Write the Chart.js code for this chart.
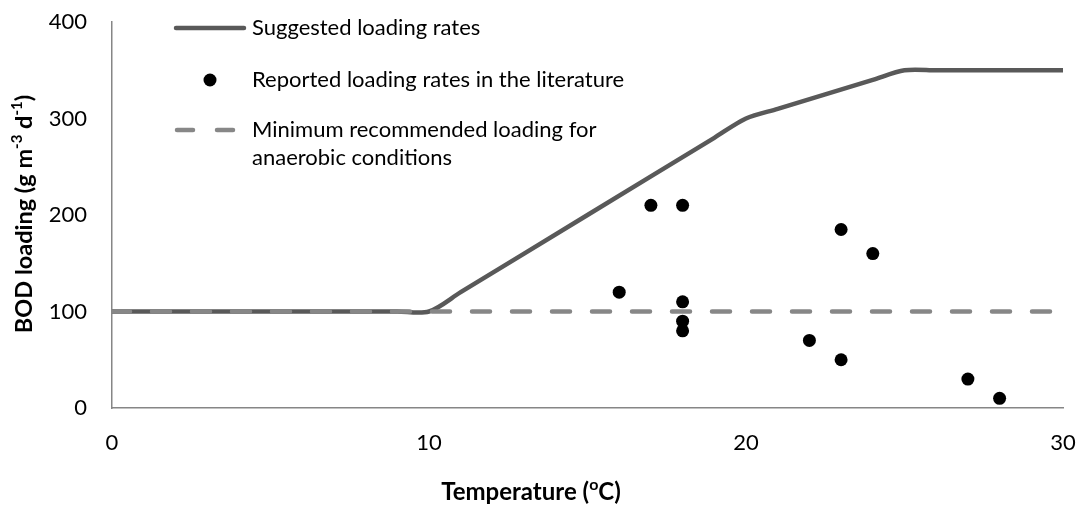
<!DOCTYPE html>
<html>
<head>
<meta charset="utf-8">
<script src="https://cdn.jsdelivr.net/npm/chart.js@4/dist/chart.umd.min.js"></script>
<style>
  html, body { margin: 0; padding: 0; background: #ffffff; }
  #wrap { width: 1082px; height: 507px; }
</style>
</head>
<body>
<div id="wrap"><canvas id="c" width="1082" height="507"></canvas></div>
<script>
// ---- data ----
const suggestedX = [0, 5, 9, 10, 11, 15, 19, 20, 21, 24, 25, 26, 30];
const suggestedY = [100, 100, 100, 100, 120, 200, 280, 300, 310, 340, 350, 350, 350];

const reportedX = [16, 17, 18, 18, 18, 18, 22, 23, 23, 24, 27, 28];
const reportedY = [120, 210, 210, 110, 90, 80, 70, 185, 50, 160, 30, 10];

const minimumX = [0, 30];
const minimumY = [100, 100];

const xTicks = [0, 10, 20, 30];
const yTicks = [0, 100, 200, 300, 400];

const legendLabels = [
  'Suggested loading rates',
  'Reported loading rates in the literature',
  ['Minimum recommended loading for', 'anaerobic conditions']
];
const xTitleParts = [['Temperature (', false], ['o', true], ['C)', false]];
const yTitleParts = [['BOD loading (g m', false], ['-3', true], [' d', false], ['-1', true], [')', false]];

// ---- styles ----
const FONT = 'Lato, "Open Sans", sans-serif';
const SOLID = '#595959';
const DASH = '#878787';
const AXIS = '#868686';

const toXY = (xs, ys) => xs.map((x, i) => ({ x: x, y: ys[i] }));

function drawRich(ctx, parts, size, x, y) {
  let cx = x;
  for (const [txt, sup] of parts) {
    if (sup) {
      ctx.font = 'bold ' + Math.round(size * 0.65) + 'px ' + FONT;
      ctx.fillText(txt, cx, y - size * 0.3);
    } else {
      ctx.font = 'bold ' + size + 'px ' + FONT;
      ctx.fillText(txt, cx, y);
    }
    cx += ctx.measureText(txt).width;
  }
}
function richWidth(ctx, parts, size) {
  let w = 0;
  for (const [txt, sup] of parts) {
    ctx.font = 'bold ' + (sup ? Math.round(size * 0.65) : size) + 'px ' + FONT;
    w += ctx.measureText(txt).width;
  }
  return w;
}

const overlay = {
  id: 'overlay',
  afterDraw(chart) {
    const ctx = chart.ctx;
    ctx.save();
    ctx.fillStyle = '#000';
    ctx.textBaseline = 'middle';
    ctx.textAlign = 'left';

    // axis titles
    const xSize = 24;
    const xw = richWidth(ctx, xTitleParts, xSize);
    drawRich(ctx, xTitleParts, xSize, 531 - xw / 2, 492);

    const ySize = 23.5;
    ctx.save();
    ctx.translate(24, 214);
    ctx.rotate(-Math.PI / 2);
    const yw = richWidth(ctx, yTitleParts, ySize);
    drawRich(ctx, yTitleParts, ySize, -yw / 2, 0);
    ctx.restore();

    // legend
    ctx.lineCap = 'round';
    ctx.strokeStyle = SOLID;
    ctx.lineWidth = 4.5;
    ctx.beginPath(); ctx.moveTo(176, 28); ctx.lineTo(244, 28); ctx.stroke();

    ctx.fillStyle = '#000';
    ctx.beginPath(); ctx.arc(210, 80, 6.5, 0, Math.PI * 2); ctx.fill();

    ctx.strokeStyle = DASH;
    ctx.beginPath(); ctx.moveTo(177, 130); ctx.lineTo(193, 130); ctx.stroke();
    ctx.beginPath(); ctx.moveTo(217, 130); ctx.lineTo(233, 130); ctx.stroke();

    ctx.font = '22px ' + FONT;
    ctx.fillText(legendLabels[0], 252, 28);
    ctx.fillText(legendLabels[1], 252, 80);
    ctx.fillText(legendLabels[2][0], 252, 130);
    ctx.fillText(legendLabels[2][1], 252, 158);
    ctx.restore();
  }
};

new Chart(document.getElementById('c'), {
  type: 'scatter',
  data: {
    datasets: [
      {
        label: 'Reported loading rates in the literature',
        data: toXY(reportedX, reportedY),
        showLine: false,
        pointRadius: 6.5,
        pointHoverRadius: 6.5,
        pointBackgroundColor: '#000',
        pointBorderWidth: 0,
        order: 0
      },
      {
        label: 'Minimum recommended loading for anaerobic conditions',
        data: toXY(minimumX, minimumY),
        showLine: true,
        borderColor: DASH,
        borderWidth: 4.5,
        borderDash: [18, 22],
        borderCapStyle: 'round',
        pointRadius: 0,
        order: 1
      },
      {
        label: 'Suggested loading rates',
        data: toXY(suggestedX, suggestedY),
        showLine: true,
        borderColor: SOLID,
        borderWidth: 4.5,
        tension: 0.3,
        borderCapStyle: 'round',
        pointRadius: 0,
        order: 2
      }
    ]
  },
  options: {
    responsive: false,
    animation: false,
    events: [],
    layout: { padding: { top: 22, right: 19, left: 0, bottom: 0 } },
    plugins: { legend: { display: false }, tooltip: { enabled: false }, title: { display: false } },
    scales: {
      x: {
        type: 'linear',
        min: 0, max: 30,
        afterBuildTicks: (s) => { s.ticks = xTicks.map(v => ({ value: v })); },
        afterFit: (s) => { s.height = 99; s.paddingLeft = 0; s.paddingRight = 0; },
        grid: { display: false, drawTicks: false },
        border: { display: true, color: AXIS, width: 1.5 },
        ticks: { color: '#000', padding: 22, font: { family: FONT, size: 22 } },
        title: { display: false }
      },
      y: {
        type: 'linear',
        min: 0, max: 400,
        afterBuildTicks: (s) => { s.ticks = yTicks.map(v => ({ value: v })); },
        afterFit: (s) => { s.width = 112; s.paddingTop = 0; s.paddingBottom = 0; },
        grid: { display: false, drawTicks: false },
        border: { display: true, color: AXIS, width: 1.5 },
        ticks: { color: '#000', padding: 25, font: { family: FONT, size: 22 } },
        title: { display: false }
      }
    }
  },
  plugins: [overlay]
});
</script>
</body>
</html>
